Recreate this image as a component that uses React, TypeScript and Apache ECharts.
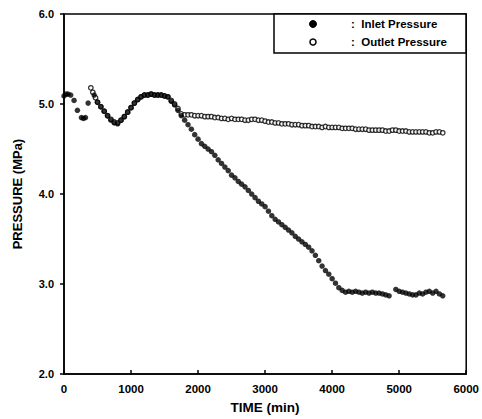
import React, { useEffect, useRef } from "react";
import * as echarts from "echarts";

const xTicks = [0, 1000, 2000, 3000, 4000, 5000, 6000];
const yTicks = [2.0, 3.0, 4.0, 5.0, 6.0];

const inletTime = [
  0, 30, 60, 100, 150, 200, 260, 290, 320, 360,
  450, 500, 550, 600, 650, 700, 750, 800, 850, 900, 950, 1000, 1050, 1100, 1150, 1200, 1250, 1300, 1350, 1400, 1450, 1500, 1550, 1600, 1650, 1700, 1750, 1800, 1850,
  1900, 1950, 2000, 2050, 2100, 2150, 2200, 2250, 2300, 2350, 2400, 2450, 2500, 2550, 2600, 2650, 2700, 2750, 2800, 2850, 2900, 2950, 3000, 3050, 3100, 3150, 3200, 3250, 3300, 3350, 3400, 3450, 3500, 3550, 3600, 3650, 3700, 3750, 3800, 3850, 3900, 3950, 4000, 4050, 4100, 4150,
  4200, 4250, 4300, 4350, 4400, 4450, 4500, 4550, 4600, 4650, 4700, 4750, 4800, 4850,
  4950, 5000, 5050, 5100, 5150, 5200, 5250, 5300, 5350, 5400, 5450, 5500, 5550, 5600, 5650,
];
const inletPressure = [
  5.09, 5.11, 5.11, 5.10, 5.04, 4.93, 4.85, 4.84, 4.85, 5.01,
  5.10, 5.02, 4.97, 4.92, 4.87, 4.82, 4.79, 4.78, 4.82, 4.86, 4.91, 4.96, 5.01, 5.05, 5.08, 5.10, 5.10, 5.11, 5.10, 5.10, 5.10, 5.09, 5.08, 5.03, 4.99, 4.93, 4.87, 4.82, 4.77,
  4.72, 4.66, 4.61, 4.56, 4.53, 4.50, 4.47, 4.43, 4.38, 4.34, 4.30, 4.26, 4.21, 4.18, 4.14, 4.11, 4.08, 4.04, 4.00, 3.96, 3.92, 3.89, 3.86, 3.81, 3.76, 3.72, 3.69, 3.66, 3.63, 3.60, 3.57, 3.53, 3.50, 3.47, 3.44, 3.41, 3.37, 3.32, 3.26, 3.20, 3.15, 3.11, 3.06, 3.01, 2.96, 2.93,
  2.91, 2.92, 2.91, 2.92, 2.91, 2.90, 2.91, 2.90, 2.91, 2.90, 2.90, 2.89, 2.88, 2.87,
  2.94, 2.92, 2.91, 2.90, 2.89, 2.88, 2.88, 2.90, 2.89, 2.91, 2.92, 2.90, 2.92, 2.89, 2.87,
];

const outletTime = [
  400, 430, 470, 500, 550, 600, 650, 700, 750, 800, 850, 900, 950, 1000, 1050, 1100, 1150, 1200, 1250, 1300, 1350, 1400, 1450, 1500, 1550, 1600, 1650, 1700, 1750, 1800, 1850,
  1900, 1950, 2000, 2050, 2100, 2150, 2200, 2250, 2300, 2350, 2400, 2450, 2500, 2550, 2600, 2650, 2700, 2750, 2800, 2850, 2900, 2950, 3000, 3050, 3100, 3150, 3200, 3250, 3300, 3350, 3400, 3450, 3500, 3550, 3600, 3650, 3700, 3750, 3800, 3850, 3900, 3950, 4000, 4050, 4100, 4150, 4200, 4250, 4300, 4350, 4400, 4450, 4500, 4550, 4600, 4650, 4700, 4750, 4800, 4850, 4900, 4950, 5000, 5050, 5100, 5150, 5200, 5250, 5300, 5350, 5400, 5450, 5500, 5550, 5600, 5650,
];
const outletPressure = [
  5.18, 5.13, 5.07, 5.02, 4.97, 4.92, 4.87, 4.83, 4.80, 4.79, 4.82, 4.86, 4.91, 4.96, 5.01, 5.05, 5.08, 5.10, 5.10, 5.11, 5.10, 5.10, 5.10, 5.09, 5.08, 5.04, 5.00, 4.95, 4.89, 4.88, 4.88,
  4.88, 4.87, 4.87, 4.87, 4.86, 4.86, 4.86, 4.85, 4.85, 4.84, 4.84, 4.83, 4.84, 4.83, 4.83, 4.83, 4.82, 4.82, 4.83, 4.83, 4.82, 4.82, 4.81, 4.80, 4.80, 4.79, 4.79, 4.78, 4.78, 4.78, 4.77, 4.77, 4.77, 4.76, 4.76, 4.76, 4.75, 4.75, 4.75, 4.74, 4.75, 4.74, 4.74, 4.74, 4.74, 4.73, 4.73, 4.73, 4.73, 4.72, 4.72, 4.72, 4.72, 4.71, 4.71, 4.71, 4.71, 4.71, 4.70, 4.70, 4.71, 4.71, 4.70, 4.70, 4.70, 4.69, 4.69, 4.69, 4.69, 4.69, 4.69, 4.68, 4.68, 4.69, 4.69, 4.68,
];

const legendLabels = [":  Inlet Pressure", ":  Outlet Pressure"];
const xTitle = "TIME (min)";
const yTitle = "PRESSURE (MPa)";

const FONT = "Arial, 'Liberation Sans', sans-serif";

export default function App() {
  const ref = useRef<HTMLDivElement>(null);
  useEffect(() => {
    if (!ref.current) return;
    const chart = echarts.init(ref.current, null, { renderer: "svg" });
    const inlet = inletTime.map((t, i) => [t, inletPressure[i]]);
    const outlet = outletTime.map((t, i) => [t, outletPressure[i]]);
    chart.setOption({
      animation: false,
      backgroundColor: "#fff",
      grid: {
        left: 64, right: 15, top: 14, bottom: 41,
        show: true, borderColor: "#000", borderWidth: 1.5, backgroundColor: "transparent",
      },
      xAxis: {
        type: "value", min: xTicks[0], max: xTicks[xTicks.length - 1], interval: 1000,
        name: xTitle, nameLocation: "middle", nameGap: 23,
        nameTextStyle: { fontFamily: FONT, fontWeight: "bold", fontSize: 13.5, color: "#000" },
        axisLine: { lineStyle: { color: "#000", width: 1.5 } },
        axisTick: { inside: true, length: 4, lineStyle: { color: "#000", width: 1.5 } },
        axisLabel: {
          fontFamily: FONT, fontWeight: "bold", fontSize: 11.5, color: "#000", margin: 9,
          formatter: (v: number) => String(v),
        },
        splitLine: { show: false },
      },
      yAxis: {
        type: "value", min: yTicks[0], max: yTicks[yTicks.length - 1], interval: 1,
        name: yTitle, nameLocation: "middle", nameGap: 40, nameRotate: 90,
        nameTextStyle: { fontFamily: FONT, fontWeight: "bold", fontSize: 13, color: "#000" },
        axisLine: { lineStyle: { color: "#000", width: 1.5 } },
        axisTick: { inside: false, length: 4, lineStyle: { color: "#000", width: 1.5 } },
        axisLabel: {
          fontFamily: FONT, fontWeight: "bold", fontSize: 11, color: "#000", margin: 10,
          formatter: (v: number) => v.toFixed(1),
        },
        splitLine: { show: false },
      },
      graphic: [
        { type: "rect", shape: { x: 274, y: 14, width: 192, height: 39 }, style: { fill: "#fff", stroke: "#000", lineWidth: 1.5 }, z: 100 },
        { type: "circle", shape: { cx: 313, cy: 24, r: 3.5 }, style: { fill: "#000", stroke: "#000", lineWidth: 1 }, z: 101 },
        { type: "circle", shape: { cx: 313, cy: 42, r: 3 }, style: { fill: "#fff", stroke: "#000", lineWidth: 1.5 }, z: 101 },
        { type: "text", x: 351, y: 24, style: { text: legendLabels[0], fontFamily: FONT, fontWeight: "bold", fontSize: 11.5, fill: "#000", verticalAlign: "middle" }, z: 101 },
        { type: "text", x: 351, y: 42, style: { text: legendLabels[1], fontFamily: FONT, fontWeight: "bold", fontSize: 11.5, fill: "#000", verticalAlign: "middle" }, z: 101 },
      ],
      series: [
        {
          name: "Outlet Pressure", type: "scatter", data: outlet, symbol: "circle", symbolSize: 4.5,
          itemStyle: { color: "#fff", borderColor: "#000", borderWidth: 1.3 }, z: 2,
        },
        {
          name: "Inlet Pressure", type: "scatter", data: inlet, symbol: "circle", symbolSize: 5.5,
          itemStyle: { color: "#000", borderColor: "#000", borderWidth: 0 }, z: 3,
        },
      ],
    });
    return () => chart.dispose();
  }, []);
  return <div ref={ref} style={{ position: "fixed", left: 0, top: 0, width: 482, height: 419 }} />;
}
